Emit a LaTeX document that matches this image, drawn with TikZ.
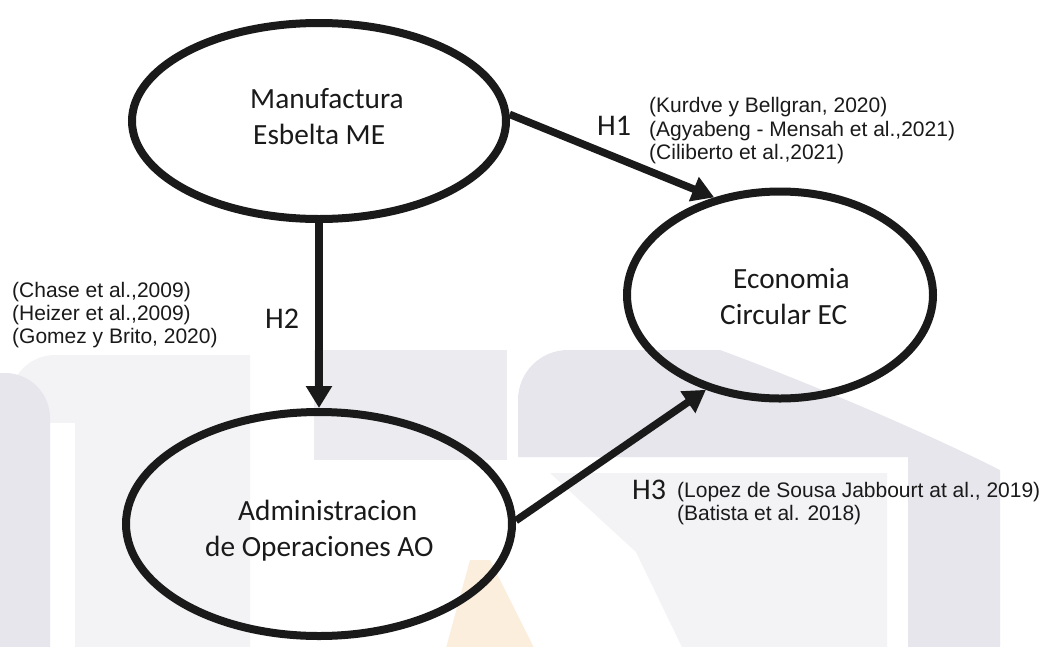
\documentclass[tikz,border=0pt]{standalone}
\usepackage{fontspec}
\setmainfont{Carlito}
\newfontfamily\citefont{Liberation Sans}
\usetikzlibrary{arrows.meta,shapes.geometric}
\definecolor{ink}{HTML}{1A1A1A}
\definecolor{wmdark}{HTML}{E6E6EC}
\definecolor{wmmid}{HTML}{ECECF0}
\definecolor{wmlight}{HTML}{F3F3F6}
\definecolor{wmorange}{HTML}{FCEEDC}
\tikzset{
  construct/.style={ellipse, draw=ink, line width=8pt, inner sep=0pt},
  hypo/.style={draw=ink, line width=7.5pt, -{Triangle[length=22pt,width=25pt]}},
  vartext/.style={anchor=base west, inner sep=0pt, text=ink, font=\fontsize{29.3}{36}\selectfont},
  hlabel/.style={anchor=base west, inner sep=0pt, text=ink, font=\fontsize{30}{36}\selectfont},
  cite/.style={anchor=base west, inner sep=0pt, text=ink, font=\citefont\fontsize{21}{23.5}\selectfont}
}
\begin{document}
\begin{tikzpicture}[x=1pt,y=-1pt]
\useasboundingbox (0,0) rectangle (1051,646);
\fill[white] (0,0) rectangle (1051,646);

% faint background shapes (y grows downwards, so arcs turn the other way)
\fill[wmlight] (10,670) -- (10,400) arc[start angle=180,end angle=270,radius=45]
  -- (250,355) -- (250,670) -- cycle;
\fill[white] (50,423) rectangle (75,670);
\fill[wmdark] (0,670) -- (0,373) -- (5,373) arc[start angle=270,end angle=360,radius=45]
  -- (50,670) -- cycle;
\fill[wmmid] (314,350) rectangle (507,460);
\fill[wmdark] (518,457) -- (518,400) arc[start angle=180,end angle=270,radius=50]
  -- (720,350) .. controls (780,372) and (900,420) .. (1000,470)
  -- (1000,670) -- (908,670) -- (908,457) -- cycle;
\fill[wmlight] (550,473) -- (887,473) -- (887,670) -- (693,670) -- (636,552) -- cycle;
\fill[wmorange] (470,560) -- (490,560) -- (545,670) -- (440,670) -- cycle;

% constructs
\node[construct, minimum width=374pt, minimum height=196pt] (me) at (319,121) {};
\node[construct, minimum width=306pt, minimum height=207pt] (ec) at (780,295) {};
\node[construct, minimum width=386pt, minimum height=224pt] (ao) at (319,524) {};

% hypotheses
\draw[hypo] (me.2) -- (ec.124);
\draw[hypo] (me.south) -- (ao.north);
\draw[hypo] (ao.1) -- (ec.232);

% construct names
\node[vartext] (me1) at (250,108) {Manufactura};
\node[vartext] (me2) at (253,144) {Esbelta ME};
\node[vartext] (ec1) at (733,288) {Economia};
\node[vartext] (ec2) at (720,324) {Circular EC};
\node[vartext] (ao1) at (238,520) {Administracion};
\node[vartext] (ao2) at (205,556) {de Operaciones AO};

% hypothesis labels
\node[hlabel] (h1) at (597,135) {H1};
\node[hlabel] (h2) at (265,328) {H2};
\node[hlabel] (h3) at (632,499) {H3};

% supporting references
\node[cite] (c11) at (649,112.5) {(Kurdve y Bellgran, 2020)};
\node[cite] (c12) at (649,136) {(Agyabeng - Mensah et al.,2021)};
\node[cite] (c13) at (649,159.5) {(Ciliberto et al.,2021)};
\node[cite] (c21) at (12,297) {(Chase et al.,2009)};
\node[cite] (c22) at (12,320) {(Heizer et al.,2009)};
\node[cite] (c23) at (12,343) {(Gomez y Brito, 2020)};
\node[cite] (c31) at (677,497) {(Lopez de Sousa Jabbourt at al., 2019)};
\node[cite] (c32) at (677,520) {(Batista et al. 2018)};
\end{tikzpicture}
\end{document}
